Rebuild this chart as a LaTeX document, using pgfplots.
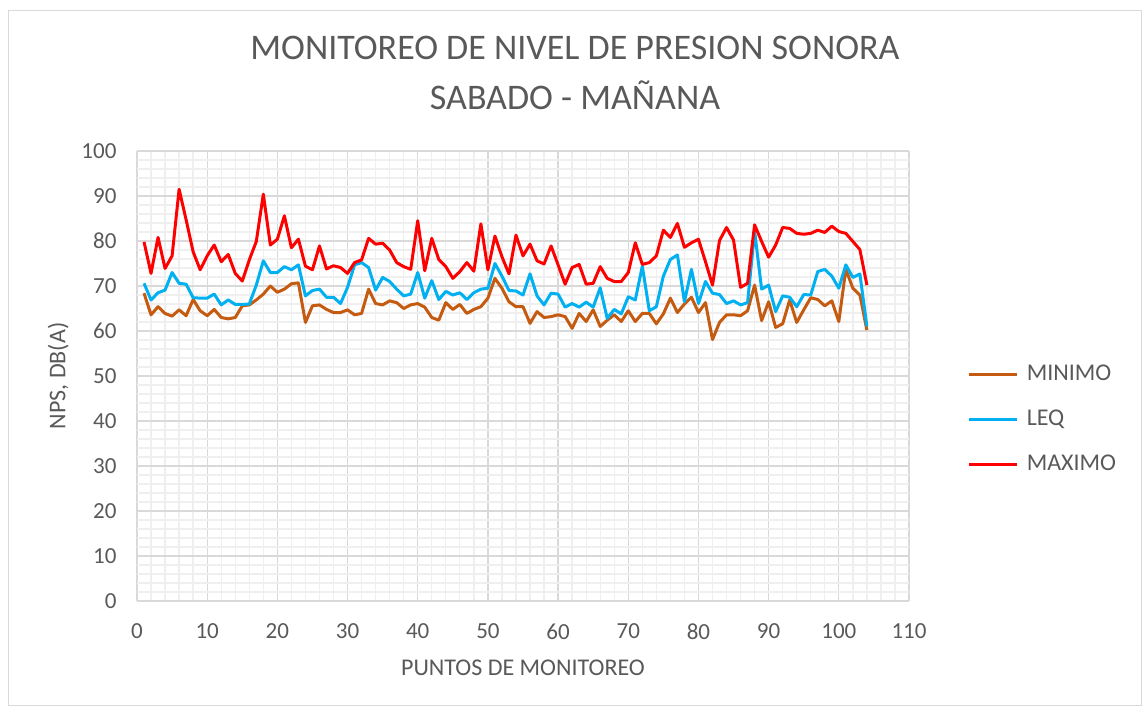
\documentclass[border=0pt]{standalone}
\usepackage{fontspec}
\setmainfont{Carlito}
\usepackage{pgfplots}
\pgfplotsset{compat=1.18}
\usepackage{pgfplotstable}
\definecolor{txtgray}{HTML}{595959}
\definecolor{gridmaj}{HTML}{D9D9D9}
\definecolor{gridmin}{HTML}{EFEFEF}
\definecolor{cmin}{HTML}{C55A11}
\definecolor{cleq}{HTML}{00B0F0}
\definecolor{cmax}{HTML}{FF0000}

% punto, minimo, leq, maximo
\pgfplotstableread{
x mn leq mx
1 68.4 70.6 79.8
2 63.6 66.9 72.8
3 65.4 68.5 80.8
4 63.9 69.1 73.9
5 63.3 73.0 76.7
6 64.7 70.6 91.5
7 63.4 70.4 84.7
8 67.0 67.4 77.6
9 64.5 67.3 73.6
10 63.4 67.3 76.7
11 64.8 68.2 79.1
12 63.0 65.8 75.4
13 62.7 66.9 77.0
14 63.0 65.9 72.8
15 65.6 65.9 71.1
16 65.8 66.0 75.8
17 66.9 70.2 79.9
18 68.2 75.6 90.4
19 70.0 73.0 79.1
20 68.6 73.0 80.4
21 69.3 74.3 85.6
22 70.5 73.6 78.5
23 70.7 74.7 80.4
24 61.9 67.8 74.4
25 65.6 69.0 73.6
26 65.8 69.3 78.9
27 64.8 67.5 73.8
28 64.1 67.5 74.5
29 64.1 66.1 74.1
30 64.7 69.7 72.8
31 63.6 74.7 75.2
32 63.9 75.2 75.8
33 69.3 74.1 80.6
34 66.1 69.1 79.3
35 65.8 71.9 79.5
36 66.7 71.0 78.0
37 66.3 69.3 75.2
38 65.0 67.8 74.3
39 65.8 68.2 73.7
40 66.1 73.0 84.5
41 65.3 67.3 73.4
42 63.0 71.2 80.6
43 62.4 67.0 75.9
44 66.3 68.8 74.3
45 64.8 68.0 71.7
46 65.9 68.5 73.2
47 63.9 67.0 75.2
48 64.8 68.5 73.3
49 65.4 69.3 83.8
50 67.3 69.5 73.6
51 71.7 75.0 81.1
52 69.5 72.2 76.5
53 66.5 69.0 72.7
54 65.4 68.9 81.3
55 65.4 68.0 76.7
56 61.7 72.7 79.3
57 64.3 67.8 75.6
58 63.0 65.8 74.9
59 63.2 68.4 78.9
60 63.6 68.2 74.7
61 63.2 65.3 70.4
62 60.6 66.1 74.1
63 63.9 65.3 74.8
64 62.1 66.4 70.4
65 64.7 65.3 70.6
66 61.0 69.6 74.3
67 62.4 62.8 71.7
68 63.6 64.8 71.0
69 62.1 63.8 71.0
70 64.5 67.6 73.0
71 62.1 66.9 79.6
72 63.9 74.4 74.8
73 63.9 64.5 75.2
74 61.6 65.4 76.7
75 63.8 72.2 82.4
76 67.3 75.9 80.8
77 64.1 76.9 83.9
78 66.0 66.5 78.6
79 67.5 73.7 79.6
80 64.1 66.1 80.4
81 66.3 71.0 75.4
82 58.1 68.4 70.2
83 61.9 68.1 80.1
84 63.6 66.1 83.0
85 63.6 66.7 80.2
86 63.4 65.8 69.7
87 64.5 66.3 70.6
88 70.2 82.2 83.6
89 62.3 69.3 79.9
90 66.5 70.2 76.4
91 60.8 64.3 79.1
92 61.6 67.8 83.0
93 66.9 67.5 82.8
94 61.9 65.4 81.7
95 64.7 68.1 81.5
96 67.4 68.0 81.7
97 67.0 73.2 82.4
98 65.6 73.7 81.9
99 66.7 72.2 83.3
100 62.1 69.5 82.1
101 73.7 74.7 81.7
102 69.5 71.9 79.9
103 68.0 72.7 78.1
104 60.2 61.0 70.2
}\datos

\begin{document}
\begin{tikzpicture}
\path[use as bounding box] (0pt,0pt) rectangle (1143pt,713pt);
\draw[gridmaj, line width=1pt] (8pt,8pt) rectangle (1141pt,702pt);

\node[font=\fontsize{36}{40}\selectfont, text=txtgray] at (575pt,665pt) {MONITOREO DE NIVEL DE PRESION SONORA};
\node[font=\fontsize{36}{40}\selectfont, text=txtgray] at (575pt,618pt) {SABADO - MAÑANA};

\begin{axis}[
  at={(137pt,112pt)}, anchor=south west,
  scale only axis, width=772pt, height=450pt,
  xmin=0, xmax=110, ymin=0, ymax=100,
  xtick distance=10, ytick distance=10, minor tick num=4,
  grid=both,
  major grid style={draw=gridmaj, line width=1.3pt},
  minor grid style={draw=gridmin, line width=1.3pt},
  axis line style={draw=none},
  major tick length=0pt, minor tick length=0pt,
  /pgf/number format/assume math mode=true,
  tick label style={font=\fontsize{23}{27}\selectfont, text=txtgray},
  xticklabel style={yshift=-19pt},
  yticklabel style={xshift=-17pt},
  xlabel={PUNTOS DE MONITOREO},
  ylabel={NPS, DB(A)},
  label style={font=\fontsize{24}{28}\selectfont, text=txtgray},
  xlabel style={at={(axis description cs:0.5,-0.149)}, anchor=center},
  ylabel style={at={(axis description cs:-0.102,0.5)}, anchor=center},
  legend style={at={(axis description cs:1.072,0.404)}, anchor=west,
    draw=none, fill=none, font=\fontsize{24}{28}\selectfont, text=txtgray,
    nodes={inner sep=0pt, text height=16pt, text depth=4pt},
    row sep=25pt, /tikz/every odd column/.style={column sep=8pt}},
  legend cell align=left,
  legend image code/.code={\draw[#1] (0pt,0pt) -- (48pt,0pt);},
  every axis plot/.append style={line width=3pt, line join=round, mark=none},
]
\addplot[cmin] table[x=x, y=mn] {\datos};
\addplot[cleq] table[x=x, y=leq] {\datos};
\addplot[cmax] table[x=x, y=mx] {\datos};
\legend{MINIMO, LEQ, MAXIMO}
\end{axis}
\end{tikzpicture}
\end{document}
